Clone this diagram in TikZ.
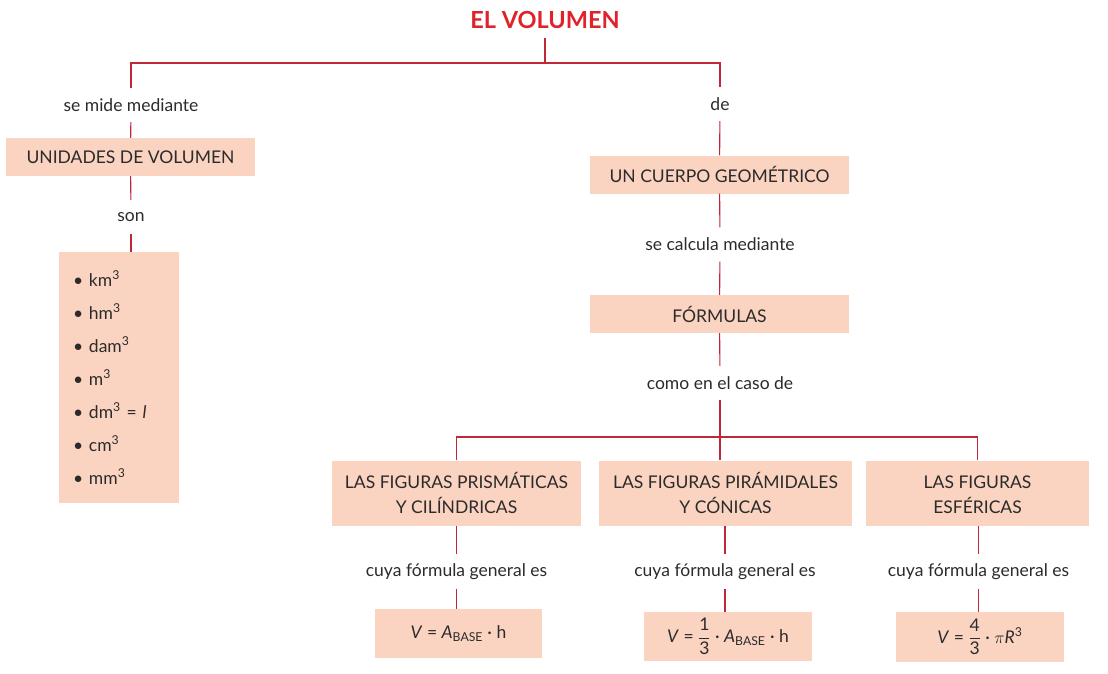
\documentclass[tikz,border=0pt]{standalone}
\usepackage{amsmath}
\usepackage{fontspec}
\setmainfont{Lato}
\usetikzlibrary{positioning,calc}
\definecolor{colorln}{HTML}{C0283A}
\definecolor{colortt}{HTML}{E0222B}
\definecolor{colorbx}{HTML}{FBD3C1}
\definecolor{colortx}{HTML}{2B2B2B}
\tikzset{
  bx/.style={fill=colorbx, text=colortx, inner sep=0pt, align=center, font=\fontsize{17.5}{25}\selectfont},
  lb/.style={text=colortx, inner sep=0pt, minimum height=34pt, font=\fontsize{17.5}{20}\selectfont},
  ln/.style={colorln, line width=1.1pt}
}
\newcommand\cub{\textsuperscript{3}}
\newcommand\abase{\textit{A}\textsubscript{BASE}}
\newcommand\fr[2]{$\dfrac{\text{#1}}{\text{#2}}$}

\begin{document}
\begin{tikzpicture}[x=1pt, y=-1pt]
\useasboundingbox (0,0) rectangle (1108,673);
\node[font=\fontsize{23.5}{26}\selectfont\bfseries, text=colortt, minimum height=36pt, inner sep=0pt] (title) at (545,20) {EL VOLUMEN};
\coordinate (jt) at (545,63);
% left branch
\node[lb] (mide) at (131,105) {se mide mediante};
\node[bx, minimum width=249pt, minimum height=38pt] (unid) at (130.5,157) {UNIDADES DE VOLUMEN};
\node[lb] (son) at (131,217) {son};
\node[bx, align=left, minimum width=120pt, minimum height=251pt, text width=92pt, font=\fontsize{17.5}{33}\selectfont] (units) at (119,377.5)
  {• km\cub\\ • hm\cub\\ • dam\cub\\ • m\cub\\ • dm\cub{} = \textit{l}\\ • cm\cub\\ • mm\cub};
% right branch
\node[lb] (de) at (720,104) {de};
\node[bx, minimum width=259pt, minimum height=38pt] (cuerpo) at (719.5,174.5) {UN CUERPO GEOMÉTRICO};
\node[lb] (calc) at (720,244.5) {se calcula mediante};
\node[bx, minimum width=259pt, minimum height=38pt] (form) at (719.5,314) {FÓRMULAS};
\node[lb] (caso) at (720,383) {como en el caso de};
\coordinate (jb) at (720,437);
\node[bx, minimum width=249pt, minimum height=65pt] (fig1) at (456.5,493) {LAS FIGURAS PRISMÁTICAS\\ Y CILÍNDRICAS};
\node[bx, minimum width=253pt, minimum height=65pt] (fig2) at (725.5,493) {LAS FIGURAS PIRÁMIDALES\\ Y CÓNICAS};
\node[bx, minimum width=223pt, minimum height=65pt] (fig3) at (977.5,493) {LAS FIGURAS\vphantom{Á}\\ ESFÉRICAS};
\node[lb] (cuya1) at (456.5,571.5) {cuya fórmula general es};
\node[lb] (cuya2) at (725,571.5) {cuya fórmula general es};
\node[lb] (cuya3) at (978.5,571.5) {cuya fórmula general es};
\node[bx, minimum width=167pt, minimum height=49pt] (f1) at (458.5,633.5) {\textit{V} = \abase{} · h};
\node[bx, minimum width=168pt, minimum height=49pt] (f2) at (728,636.5) {\textit{V} = \fr{1}{3} · \abase{} · h};
\node[bx, minimum width=168pt, minimum height=50pt] (f3) at (980,637) {\textit{V} = \fr{4}{3} · $\pi$\textit{R}\cub};
% connectors
\draw[ln] (title) -- (jt);
\draw[ln] (jt) -| (mide);
\draw[ln] (jt) -| (de);
\draw[ln] (mide) -- (unid);
\draw[ln] (unid) -- (son);
\draw[ln] (son) -- (son |- units.north);
\draw[ln] (de) -- (cuerpo);
\draw[ln] (cuerpo) -- (calc);
\draw[ln] (calc) -- (form);
\draw[ln] (form) -- (caso);
\draw[ln] (caso) -- (jb);
\draw[ln] (jb) -| (fig1);
\draw[ln] (jb) -- (jb |- fig2.north);
\draw[ln] (jb) -| (fig3);
\draw[ln] (fig1) -- (cuya1);
\draw[ln] (fig2.south -| cuya2) -- (cuya2);
\draw[ln] (fig3.south -| cuya3) -- (cuya3);
\draw[ln] (cuya1) -- (cuya1 |- f1.north);
\draw[ln] (cuya2) -- (cuya2 |- f2.north);
\draw[ln] (cuya3) -- (cuya3 |- f3.north);
\end{tikzpicture}
\end{document}
